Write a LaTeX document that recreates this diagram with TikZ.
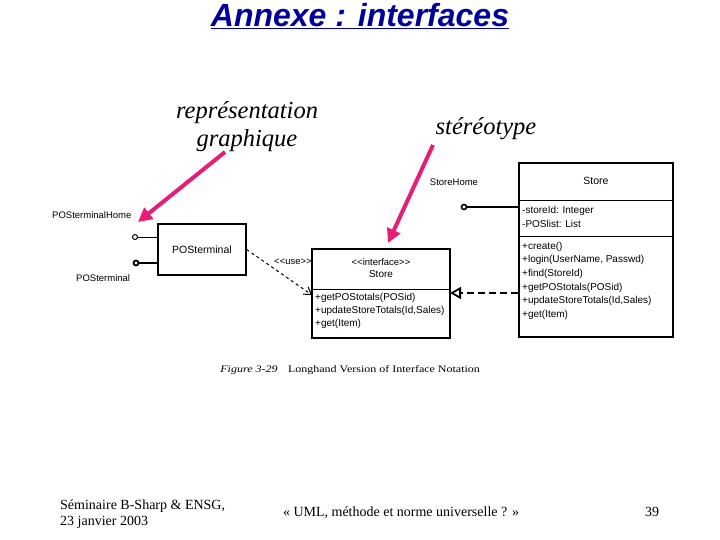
\documentclass[tikz,border=0pt]{standalone}
\usepackage{fontspec}
\setmainfont{Liberation Serif}
\newfontfamily\arialf{Liberation Sans}
\usetikzlibrary{arrows.meta}
\definecolor{titleblue}{RGB}{0,0,153}
\definecolor{pinkarrow}{RGB}{230,30,120}
\tikzset{
  umlbox/.style={draw, line width=1.3pt, inner sep=0pt},
  small/.style={font=\arialf\fontsize{9.5}{11}\selectfont, inner sep=0pt},
  meth/.style={font=\arialf\fontsize{10}{12}\selectfont, inner sep=0pt, anchor=west},
  lolli/.style={draw, circle, line width=1pt, minimum size=5pt, inner sep=0pt, fill=white},
  pinkarr/.style={pinkarrow, line width=4pt, -{Triangle[length=14pt,width=14pt]}},
  serifit/.style={font=\fontsize{24.5}{28}\selectfont\itshape, align=center, inner sep=0pt},
  foot/.style={font=\fontsize{14}{16}\selectfont, inner sep=0pt},
  capt/.style={font=\fontsize{10}{12}\selectfont, inner sep=0pt}
}
\begin{document}
\begin{tikzpicture}[x=1pt,y=-1pt]
\useasboundingbox (0,0) rectangle (720,540);
% title
\node[font=\arialf\fontsize{32}{36}\selectfont\bfseries\itshape, text=titleblue, inner sep=0pt] (title) at (360,16) {\underline{Annexe : interfaces}};
% annotations
\node[serifit] (rep) at (247,127) {représentation\\graphique};
\node[serifit] (ster) at (486,129) {stéréotype};
% POSterminal box
\node[umlbox, minimum width=88pt, minimum height=51pt, font=\arialf\fontsize{10.5}{12}\selectfont] (pt) at (202,249.5) {POSterminal};
\node[lolli] (c1) at (135,237) {};
\node[lolli, line width=1.8pt] (c2) at (136,263) {};
\draw[line width=0.8pt] (c1) -- (c1 -| pt.west);
\draw[line width=2.4pt] (c2) -- (c2 -| pt.west);
\node[small, anchor=west] (l1) at (52,215) {POSterminalHome};
\node[small, anchor=west] (l2) at (76,278) {POSterminal};
% interface box
\node[umlbox, minimum width=138pt, minimum height=89pt] (ib) at (381,293.5) {};
\draw[line width=0.8pt] (312,289) -- (450,289);
\node[small] (st1) at (381,262) {<<interface>>};
\node[small, font=\arialf\fontsize{10}{12}\selectfont] (st2) at (381,274) {Store};
\node[meth] (m1) at (315,298) {+getPOStotals(POSid)};
\node[meth] (m2) at (315,311) {+updateStoreTotals(Id,Sales)};
\node[meth] (m3) at (315,324) {+get(Item)};
% use dependency
\coordinate (usetip) at (312,295);
\draw[line width=1pt, dashed, -{Straight Barb[length=7pt,width=9pt]}] (pt.east) -- (usetip);
\node[small] (use) at (293,262) {<<use>>};
% Store class
\node[umlbox, minimum width=154pt, minimum height=174pt] (sc) at (596,250) {};
\draw[line width=0.8pt] (519,200) -- (673,200);
\draw[line width=0.8pt] (519,236) -- (673,236);
\node[small, font=\arialf\fontsize{10.5}{12}\selectfont] (scn) at (596,181) {Store};
\node[meth] (a1) at (522,211) {-storeId: Integer};
\node[meth] (a2) at (522,224) {-POSlist: List};
\node[meth] (s1) at (522,247) {+create()};
\node[meth] (s2) at (522,260) {+login(UserName, Passwd)};
\node[meth] (s3) at (522,274) {+find(StoreId)};
\node[meth] (s4) at (522,288) {+getPOStotals(POSid)};
\node[meth] (s5) at (522,301) {+updateStoreTotals(Id,Sales)};
\node[meth] (s6) at (522,315) {+get(Item)};
% StoreHome lollipop
\node[lolli, line width=1.6pt] (c3) at (464,207) {};
\draw[line width=2pt] (c3) -- (c3 -| sc.west);
\node[small] (shl) at (454,182) {StoreHome};
% realization
\coordinate (realtip) at (450,293);
\draw[line width=1.8pt, dash pattern=on 7pt off 4pt, -{Triangle[open,length=11pt,width=12pt,line width=1.8pt]}] (realtip -| sc.west) -- (realtip);
% pink arrows
\coordinate (p1) at (138,222);
\coordinate (p2) at (388,243);
\draw[pinkarr] (225,152) -- (p1);
\draw[pinkarr] (433,145) -- (p2);
% caption
\node[capt] (cap1) at (249,370) {\scalebox{1.2}[1]{\textit{Figure 3-29}}};
\node[capt] (cap2) at (384,370) {\scalebox{1.2}[1]{Longhand Version of Interface Notation}};
% footer
\node[foot, anchor=west, align=left] (f1) at (60,514) {Séminaire B-Sharp \& ENSG,\\23 janvier 2003};
\node[foot] (f2) at (401,513) {« UML, méthode et norme universelle ? »};
\node[foot] (f3) at (652,512) {39};
\end{tikzpicture}
\end{document}
